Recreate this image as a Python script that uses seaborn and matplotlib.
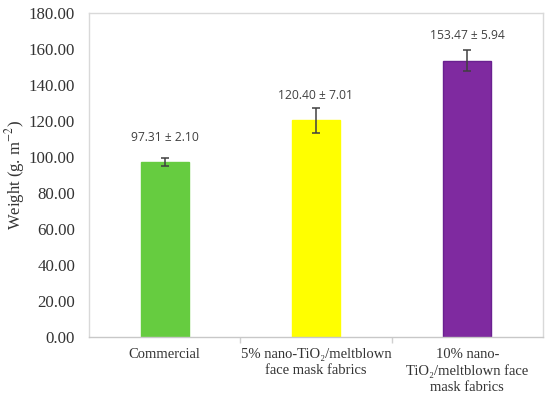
import matplotlib
matplotlib.use("Agg")
import matplotlib.pyplot as plt
import seaborn as sns
import pandas as pd
import numpy as np

categories = ["Commercial",
              "5% nano-TiO\u2082/meltblown\nface mask fabrics",
              "10% nano-\nTiO\u2082/meltblown face\nmask fabrics"]
weights = [97.31, 120.40, 153.47]
errors = [2.10, 7.01, 5.94]
value_labels = ["97.31 \u00b1 2.10", "120.40 \u00b1 7.01", "153.47 \u00b1 5.94"]
yticks = [0, 20, 40, 60, 80, 100, 120, 140, 160, 180]

colors = ["#66CC40", "#FFFF00", "#7F2AA0"]
edges = ["#66CC40", "#FFFF00", "#6A2090"]
label_offsets = [15, 8.5, 10.5]

sns.set_theme(style="white")
plt.rcParams['font.family'] = ['Liberation Serif', 'DejaVu Serif']
plt.rcParams['mathtext.fontset'] = 'stix'

df = pd.DataFrame({"cat": categories, "w": weights})

fig = plt.figure(figsize=(5.5, 3.98), dpi=100)
ax = fig.add_axes([89/550, 1-337/398, (543-89)/550, (337-13)/398])

sns.barplot(data=df, x="cat", y="w", hue="cat", palette=colors, width=0.317,
            saturation=1, legend=False, ax=ax, errorbar=None)
for p, ec in zip(ax.patches, edges):
    p.set_edgecolor(ec)
    p.set_linewidth(1.0)

x = np.arange(len(categories))
ax.errorbar(x, weights, yerr=errors, fmt="none", ecolor="#404040",
            elinewidth=1.1, capsize=3, capthick=1.1)

for xi, v, e, lab, off in zip(x, weights, errors, value_labels, label_offsets):
    ax.annotate(lab, (xi, v + e), xytext=(0, off), textcoords="offset points",
                ha="center", va="center", fontsize=8.7, color="#404040",
                family=["Open Sans", "DejaVu Sans"])

ax.set_xlim(-0.5, 2.5)
ax.set_ylim(0, 180)
ax.set_yticks(yticks)
ax.set_yticklabels([f"{t:.2f}" for t in yticks], fontsize=12.2, color="#333333")
ax.set_xticks(x)
ax.set_xticklabels(categories, fontsize=10.5, linespacing=1.3, color="#333333")
ax.tick_params(axis="x", which="major", length=0, pad=8)
ax.tick_params(axis="y", length=0, pad=10)
ax.set_xticks([0.5, 1.5], minor=True)
ax.tick_params(axis="x", which="minor", bottom=True, length=4, color="#d0d0d0",
               width=1, direction="out")
ax.set_xlabel("")
ax.set_ylabel("Weight (g. m$^{-2}$)", fontsize=12, color="#333333")
ax.yaxis.label.set_va("center")
ax.yaxis.set_label_coords(-(89 - 15) / 454, 0.5)

for s in ax.spines.values():
    s.set_color("#d9d9d9")
    s.set_linewidth(1.0)
ax.spines["bottom"].set_color("#c8c8c8")

fig.savefig("out.png", dpi=100)
